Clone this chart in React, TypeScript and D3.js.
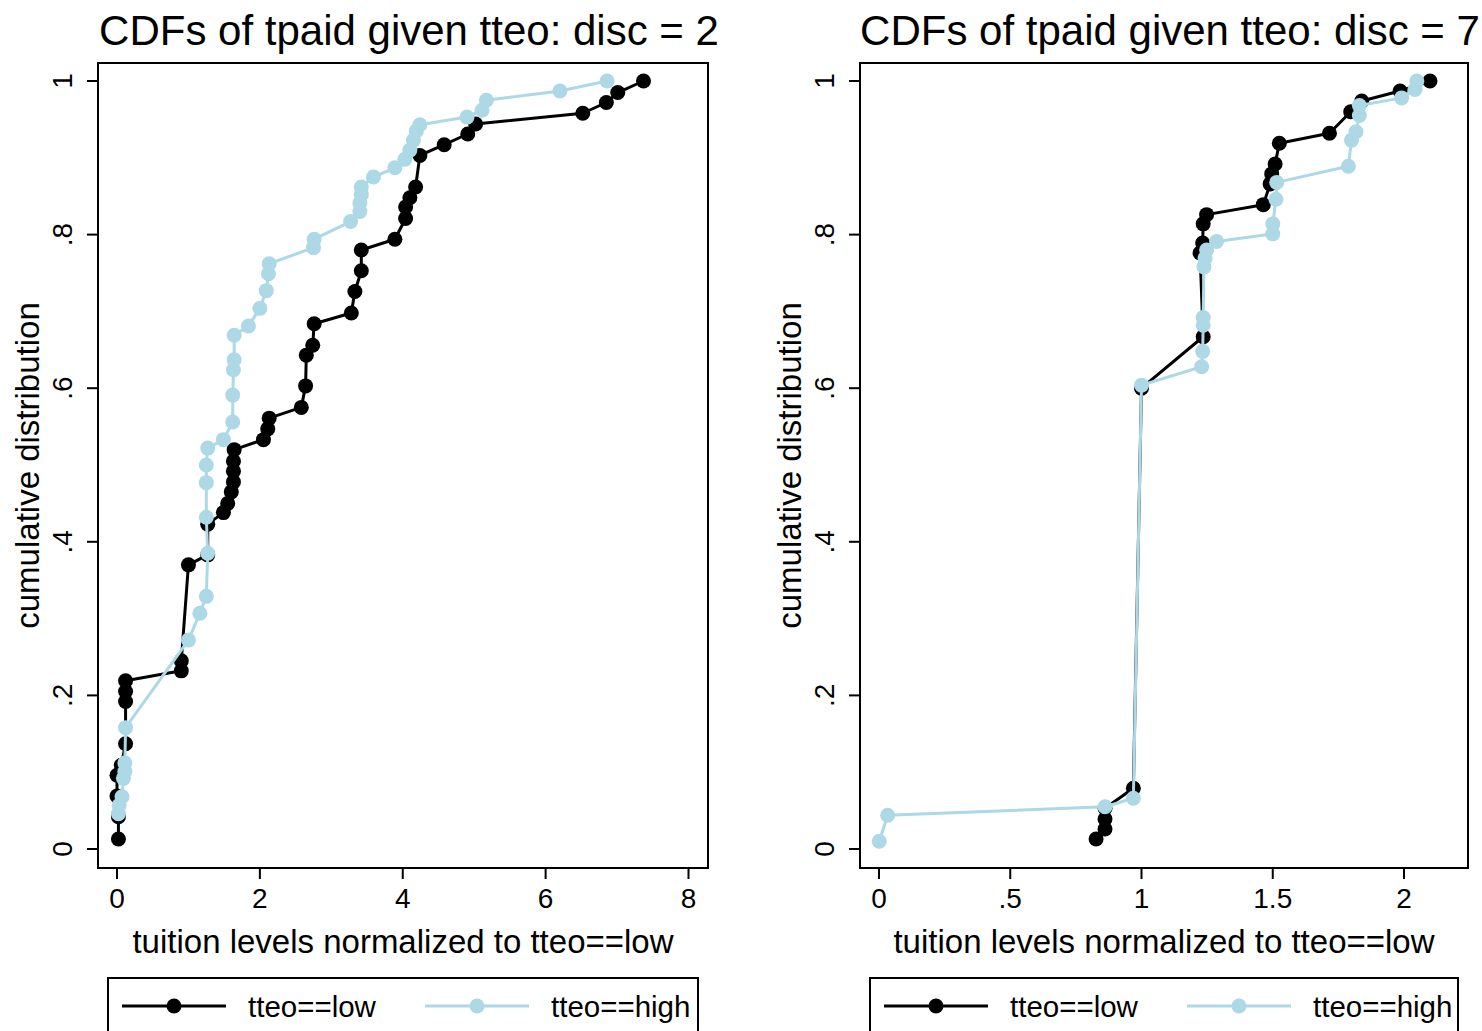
import React from "react";
import * as d3 from "d3";

// Empirical CDF points of tpaid (normalized tuition) by tteo group, disc = 2
const lowX2 = [0.02, 0.02, 0.0, 0.0, 0.06, 0.12, 0.12, 0.12, 0.12, 0.9, 0.9, 1.0, 1.27, 1.27, 1.49, 1.55, 1.6, 1.63, 1.63, 1.63, 1.64, 2.05, 2.11, 2.13, 2.58, 2.64, 2.65, 2.74, 2.76, 3.28, 3.33, 3.42, 3.42, 3.89, 4.04, 4.04, 4.1, 4.18, 4.24, 4.58, 4.91, 5.02, 6.52, 6.85, 7.01, 7.37];
const lowY2 = [0.013, 0.042, 0.069, 0.096, 0.109, 0.137, 0.192, 0.205, 0.219, 0.232, 0.245, 0.37, 0.383, 0.423, 0.438, 0.45, 0.465, 0.478, 0.492, 0.505, 0.52, 0.533, 0.547, 0.561, 0.575, 0.603, 0.643, 0.656, 0.684, 0.698, 0.726, 0.753, 0.78, 0.794, 0.821, 0.836, 0.848, 0.862, 0.903, 0.917, 0.931, 0.944, 0.958, 0.972, 0.985, 1.0];
const highX2 = [0.02, 0.03, 0.07, 0.09, 0.11, 0.11, 0.12, 1.0, 1.16, 1.25, 1.27, 1.25, 1.25, 1.25, 1.27, 1.49, 1.62, 1.62, 1.63, 1.64, 1.64, 1.84, 2.0, 2.09, 2.12, 2.13, 2.75, 2.76, 3.27, 3.4, 3.4, 3.42, 3.42, 3.59, 3.89, 4.03, 4.1, 4.15, 4.19, 4.24, 4.9, 5.11, 5.17, 6.2, 6.86];
const highY2 = [0.046, 0.057, 0.068, 0.092, 0.101, 0.112, 0.158, 0.272, 0.307, 0.329, 0.385, 0.432, 0.477, 0.5, 0.522, 0.533, 0.556, 0.591, 0.624, 0.637, 0.669, 0.681, 0.704, 0.727, 0.749, 0.762, 0.783, 0.794, 0.817, 0.83, 0.841, 0.852, 0.862, 0.875, 0.887, 0.898, 0.91, 0.923, 0.935, 0.943, 0.953, 0.962, 0.975, 0.987, 1.0];

// Same for disc = 7
const lowX7 = [0.827, 0.861, 0.861, 0.861, 0.969, 1.0, 1.235, 1.223, 1.233, 1.235, 1.248, 1.464, 1.49, 1.496, 1.509, 1.525, 1.716, 1.797, 1.839, 1.985, 2.099];
const lowY7 = [0.013, 0.026, 0.039, 0.053, 0.079, 0.6, 0.667, 0.776, 0.789, 0.814, 0.826, 0.839, 0.866, 0.879, 0.892, 0.919, 0.932, 0.96, 0.974, 0.987, 1.0];
const highX7 = [0.001, 0.033, 0.861, 0.969, 1.0, 1.229, 1.233, 1.235, 1.235, 1.238, 1.242, 1.248, 1.286, 1.5, 1.5, 1.512, 1.515, 1.788, 1.8, 1.817, 1.83, 1.83, 1.991, 2.042, 2.049];
const highY7 = [0.01, 0.044, 0.055, 0.066, 0.604, 0.628, 0.648, 0.682, 0.692, 0.758, 0.769, 0.78, 0.791, 0.801, 0.814, 0.846, 0.868, 0.889, 0.923, 0.934, 0.955, 0.968, 0.978, 0.989, 1.0];

const xTicks2 = [0, 2, 4, 6, 8];
const xTickLabels2 = ["0", "2", "4", "6", "8"];
const xTicks7 = [0, 0.5, 1, 1.5, 2];
const xTickLabels7 = ["0", ".5", "1", "1.5", "2"];
const yTicks = [0, 0.2, 0.4, 0.6, 0.8, 1];
const yTickLabels = ["0", ".2", ".4", ".6", ".8", "1"];

const seriesNames = ["tteo==low", "tteo==high"];
const seriesColors = ["#000000", "#ADD8E6"];

const FONT = "'Liberation Sans', Arial, Helvetica, sans-serif";

type PanelProps = {
  title: string;
  xDomain: [number, number];
  xRange: [number, number];
  frameX: [number, number];
  xTicks: number[];
  xTickLabels: string[];
  series: { xs: number[]; ys: number[] }[];
};

function Panel({ title, xDomain, xRange, frameX, xTicks, xTickLabels, series }: PanelProps) {
  const x = d3.scaleLinear().domain(xDomain).range(xRange);
  const y = d3.scaleLinear().domain([0, 1]).range([849, 81]);
  const frameTop = 63;
  const frameBottom = 868;
  const line = d3
    .line<[number, number]>()
    .x((d) => x(d[0]))
    .y((d) => y(d[1]));
  const midX = (frameX[0] + frameX[1]) / 2;

  return (
    <g>
      <text x={midX + 6} y={45} fontSize={42} textAnchor="middle" fontFamily={FONT} fill="#000">
        {title}
      </text>

      {/* plot region frame */}
      <rect
        x={frameX[0]}
        y={frameTop}
        width={frameX[1] - frameX[0]}
        height={frameBottom - frameTop}
        fill="#fff"
        stroke="#000"
        strokeWidth={2}
      />

      {/* y axis */}
      {yTicks.map((t, i) => (
        <g key={"y" + i}>
          <line x1={frameX[0] - 11} x2={frameX[0]} y1={y(t)} y2={y(t)} stroke="#000" strokeWidth={2} />
          <text
            transform={`translate(${frameX[0] - 26},${y(t)}) rotate(-90)`}
            textAnchor="middle"
            fontSize={28}
            fontFamily={FONT}
            fill="#000"
          >
            {yTickLabels[i]}
          </text>
        </g>
      ))}
      <text
        transform={`translate(${frameX[0] - 59},${(frameTop + frameBottom) / 2}) rotate(-90)`}
        textAnchor="middle"
        fontSize={33}
        fontFamily={FONT}
        fill="#000"
      >
        cumulative distribution
      </text>

      {/* x axis */}
      {xTicks.map((t, i) => (
        <g key={"x" + i}>
          <line x1={x(t)} x2={x(t)} y1={frameBottom} y2={frameBottom + 11} stroke="#000" strokeWidth={2} />
          <text x={x(t)} y={908} textAnchor="middle" fontSize={28} fontFamily={FONT} fill="#000">
            {xTickLabels[i]}
          </text>
        </g>
      ))}
      <text x={midX} y={953} textAnchor="middle" fontSize={33} fontFamily={FONT} fill="#000">
        tuition levels normalized to tteo==low
      </text>

      {/* CDF series */}
      {series.map((s, si) => {
        const pts: [number, number][] = s.xs.map((v, k) => [v, s.ys[k]]);
        return (
          <g key={"s" + si}>
            <path d={line(pts) || ""} fill="none" stroke={seriesColors[si]} strokeWidth={3} strokeLinejoin="round" />
            {pts.map((p, k) => (
              <circle key={k} cx={x(p[0])} cy={y(p[1])} r={7.5} fill={seriesColors[si]} />
            ))}
          </g>
        );
      })}

      {/* legend */}
      <rect
        x={frameX[0] + 10}
        y={978}
        width={frameX[1] - frameX[0] - 20}
        height={70}
        fill="#fff"
        stroke="#000"
        strokeWidth={2}
      />
      {seriesNames.map((name, i) => {
        const lx = frameX[0] + 24 + i * 303;
        return (
          <g key={"lg" + i}>
            <line x1={lx} x2={lx + 104} y1={1006} y2={1006} stroke={seriesColors[i]} strokeWidth={3} />
            <circle cx={lx + 52} cy={1006} r={7.5} fill={seriesColors[i]} />
            <text x={lx + 126} y={1017} fontSize={29.5} fontFamily={FONT} fill="#000">
              {name}
            </text>
          </g>
        );
      })}
    </g>
  );
}

export default function App() {
  return (
    <svg width={1482} height={1031} style={{ position: "absolute", left: 0, top: 0, background: "#fff" }}>
      <rect x={0} y={0} width={1482} height={1031} fill="#fff" />
      <Panel
        title="CDFs of tpaid given tteo: disc = 2"
        xDomain={[0, 8]}
        xRange={[117, 688.5]}
        frameX={[98, 708]}
        xTicks={xTicks2}
        xTickLabels={xTickLabels2}
        series={[
          { xs: lowX2, ys: lowY2 },
          { xs: highX2, ys: highY2 },
        ]}
      />
      <Panel
        title="CDFs of tpaid given tteo: disc = 7"
        xDomain={[0, 2]}
        xRange={[879, 1404]}
        frameX={[860, 1468]}
        xTicks={xTicks7}
        xTickLabels={xTickLabels7}
        series={[
          { xs: lowX7, ys: lowY7 },
          { xs: highX7, ys: highY7 },
        ]}
      />
    </svg>
  );
}
